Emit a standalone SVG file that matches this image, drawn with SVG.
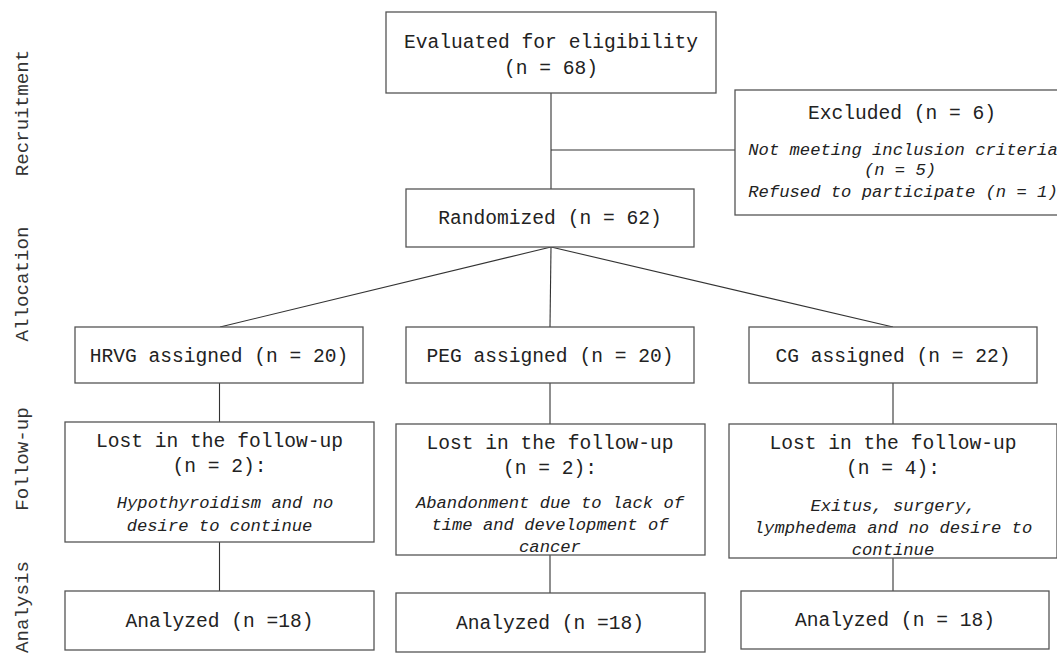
<svg xmlns="http://www.w3.org/2000/svg" width="1057" height="655" viewBox="0 0 1057 655">
<style>
.box{fill:#fff;stroke:#555;stroke-width:1.3}
.t{font-family:"Liberation Mono","DejaVu Sans Mono",monospace;font-size:19.6px;fill:#222;text-anchor:middle}
.i{font-family:"Liberation Mono","DejaVu Sans Mono",monospace;font-size:17.2px;font-style:italic;fill:#222;text-anchor:middle}
.side{font-family:"Liberation Mono","DejaVu Sans Mono",monospace;font-size:19.2px;fill:#333;text-anchor:middle}
.c{stroke:#333;stroke-width:1.1;fill:none}
</style>
<rect width="1057" height="655" fill="#fff"/>
<g id="phase-labels">
<text class="side" transform="translate(28,113) rotate(-90)">Recruitment</text>
<text class="side" transform="translate(28,284) rotate(-90)">Allocation</text>
<text class="side" transform="translate(28,459) rotate(-90)">Follow-up</text>
<text class="side" transform="translate(28,607) rotate(-90)">Analysis</text>
</g>
<g id="connectors">
<line class="c" x1="551" y1="93" x2="551" y2="189"/>
<line class="c" x1="551" y1="150" x2="735" y2="150"/>
<line class="c" x1="551" y1="247" x2="220" y2="327"/>
<line class="c" x1="551" y1="247" x2="550" y2="327"/>
<line class="c" x1="551" y1="247" x2="893" y2="327"/>
<line class="c" x1="219.5" y1="383" x2="219.5" y2="422"/>
<line class="c" x1="219.5" y1="542" x2="219.5" y2="591"/>
<line class="c" x1="550" y1="383" x2="550" y2="424"/>
<line class="c" x1="550" y1="555" x2="550" y2="593"/>
<line class="c" x1="893" y1="383" x2="893" y2="424"/>
<line class="c" x1="893" y1="558" x2="893" y2="591"/>
</g>
<g id="evaluated">
<rect class="box" x="386" y="12" width="330" height="81"/>
<text class="t" x="551" y="48">Evaluated for eligibility</text>
<text class="t" x="551" y="74">(n = 68)</text>
</g>
<g id="excluded">
<rect class="box" x="735" y="90" width="335" height="125"/>
<text class="t" x="902" y="119">Excluded (n = 6)</text>
<text class="i" x="903" y="155">Not meeting inclusion criteria</text>
<text class="i" x="900" y="175">(n = 5)</text>
<text class="i" x="903" y="197">Refused to participate (n = 1)</text>
</g>
<g id="randomized">
<rect class="box" x="406" y="189" width="288" height="58"/>
<text class="t" x="550" y="224">Randomized (n = 62)</text>
</g>
<g id="hrvg">
<rect class="box" x="75" y="327" width="288" height="56"/>
<text class="t" x="219" y="362">HRVG assigned (n = 20)</text>
</g>
<g id="peg">
<rect class="box" x="406" y="327" width="288" height="56"/>
<text class="t" x="550" y="362">PEG assigned (n = 20)</text>
</g>
<g id="cg">
<rect class="box" x="749" y="327" width="288" height="56"/>
<text class="t" x="893" y="362">CG assigned (n = 22)</text>
</g>
<g id="lost-hrvg">
<rect class="box" x="65" y="422" width="309" height="120"/>
<text class="t" x="219.5" y="447">Lost in the follow-up</text>
<text class="t" x="219.5" y="472">(n = 2):</text>
<text class="i" x="225" y="508">Hypothyroidism and no</text>
<text class="i" x="219.5" y="531">desire to continue</text>
</g>
<g id="lost-peg">
<rect class="box" x="396" y="424" width="309" height="131"/>
<text class="t" x="550" y="449">Lost in the follow-up</text>
<text class="t" x="550" y="474">(n = 2):</text>
<text class="i" x="550" y="508">Abandonment due to lack of</text>
<text class="i" x="550" y="530">time and development of</text>
<text class="i" x="550" y="552">cancer</text>
</g>
<g id="lost-cg">
<rect class="box" x="729" y="424" width="328" height="134"/>
<text class="t" x="893" y="449">Lost in the follow-up</text>
<text class="t" x="893" y="474">(n = 4):</text>
<text class="i" x="893" y="511">Exitus, surgery,</text>
<text class="i" x="893" y="533">lymphedema and no desire to</text>
<text class="i" x="893" y="555">continue</text>
</g>
<g id="analyzed-hrvg">
<rect class="box" x="65" y="591" width="309" height="59"/>
<text class="t" x="219.5" y="627">Analyzed (n =18)</text>
</g>
<g id="analyzed-peg">
<rect class="box" x="396" y="593" width="309" height="59"/>
<text class="t" x="550" y="629">Analyzed (n =18)</text>
</g>
<g id="analyzed-cg">
<rect class="box" x="741" y="591" width="308" height="58"/>
<text class="t" x="895" y="626">Analyzed (n = 18)</text>
</g>
</svg>
